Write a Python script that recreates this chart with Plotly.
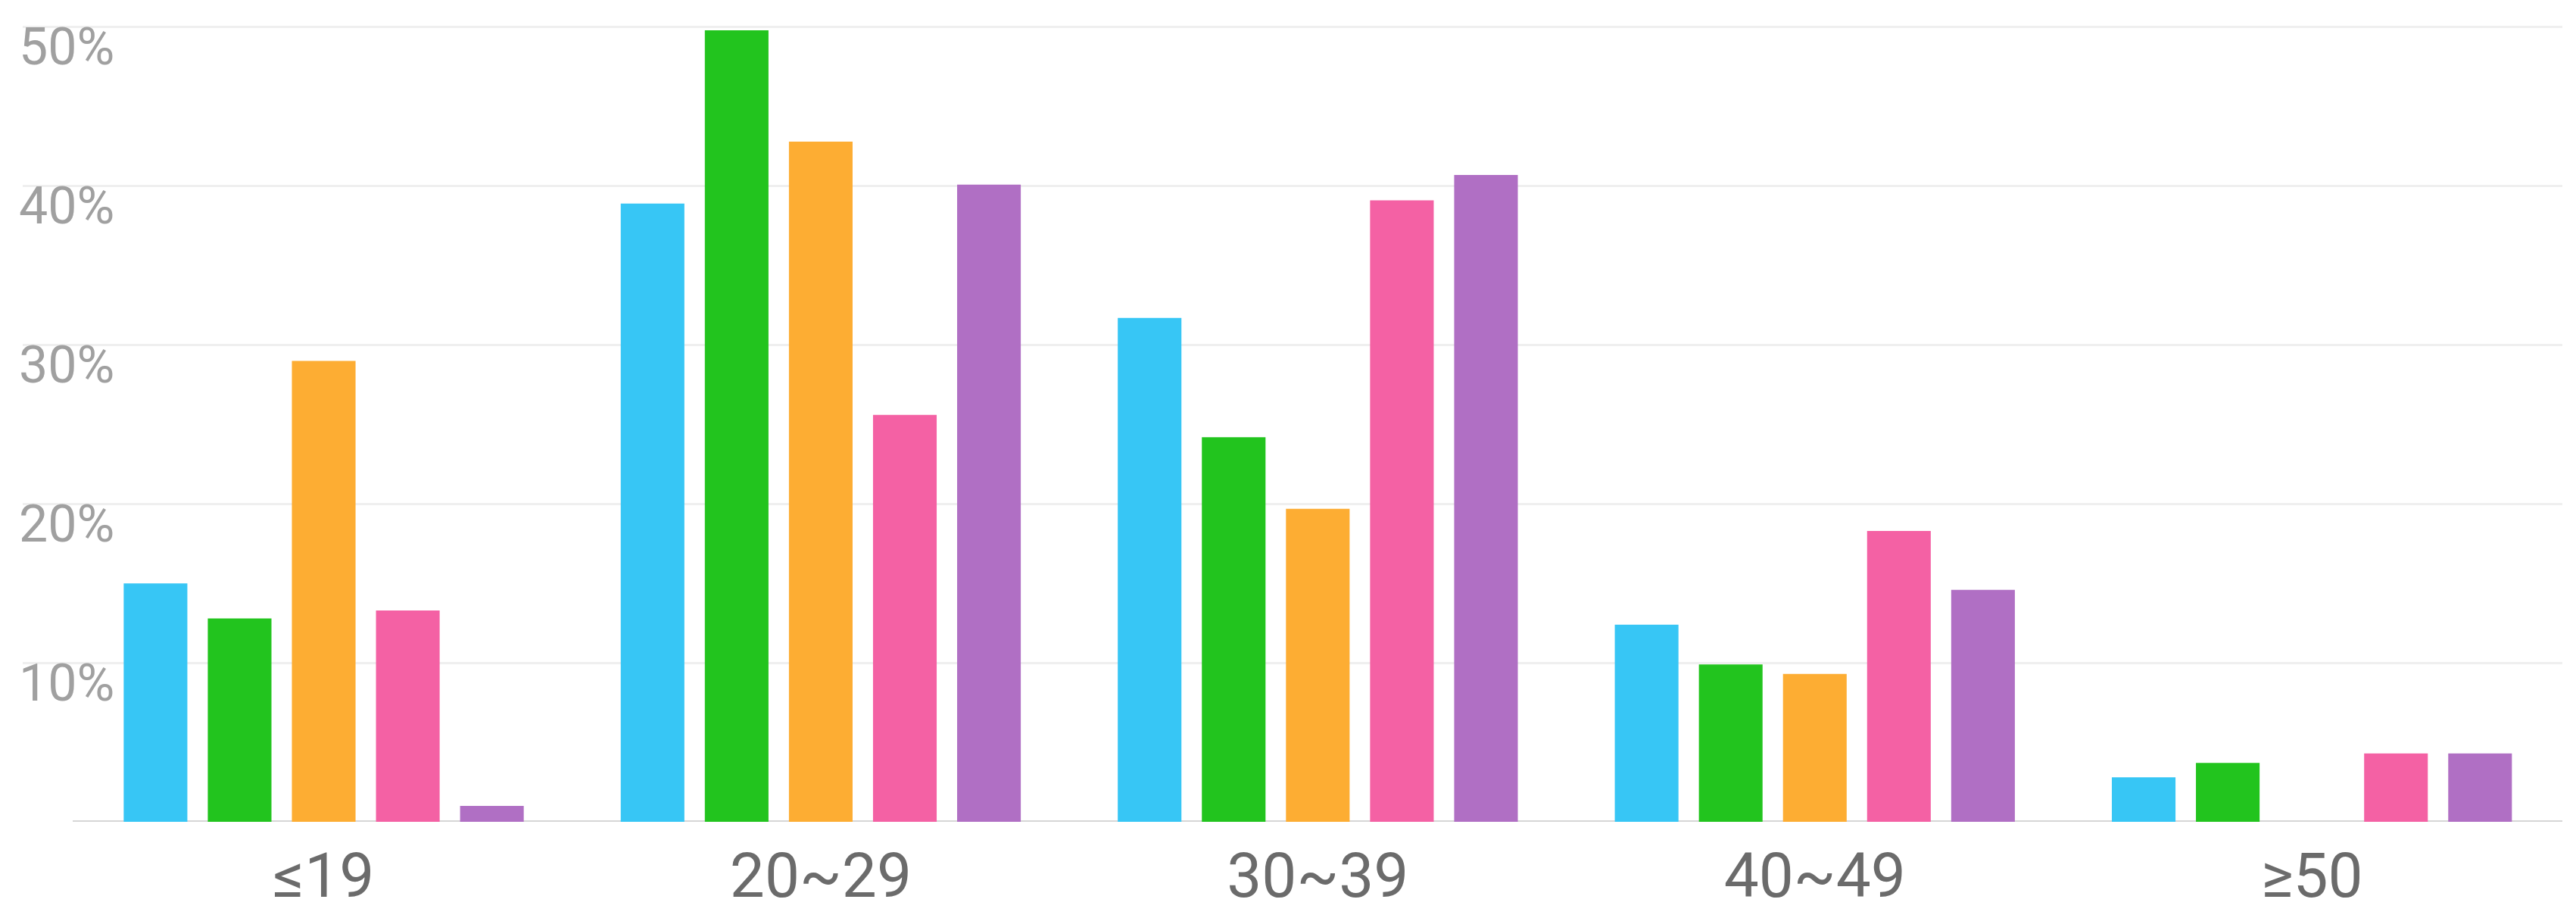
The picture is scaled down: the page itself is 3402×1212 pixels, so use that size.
import plotly.graph_objects as go

# age groups and the five series (percent)
categories = ["≤19", "20~29", "30~39", "40~49", "≥50"]
series_names = ["A", "B", "C", "D", "E"]
values_a = [15.0, 38.9, 31.7, 12.4, 2.8]
values_b = [12.8, 49.8, 24.2, 9.9, 3.7]
values_c = [29.0, 42.8, 19.7, 9.3, 0.0]
values_d = [13.3, 25.6, 39.1, 18.3, 4.3]
values_e = [1.0, 40.1, 40.7, 14.6, 4.3]
colors = ["#37C6F5", "#22C41E", "#FDAD33", "#F461A4", "#B06FC4"]
y_ticks = [10, 20, 30, 40, 50]
y_tick_text = ["10%", "20%", "30%", "40%", "50%"]

FONT = "Roboto, Noto Sans, sans-serif"

fig = go.Figure()
for name, vals, col in zip(series_names,
                           [values_a, values_b, values_c, values_d, values_e],
                           colors):
    fig.add_trace(go.Bar(x=categories, y=vals, name=name,
                         marker_color=col, marker_line_width=0))

# baseline, drawn only under the categories (gridlines run further left)
fig.add_shape(type="line", xref="x", yref="y", x0=-0.505, x1=4.504, y0=0, y1=0,
              line=dict(color="#d6d6d6", width=4), layer="below")

fig.update_layout(
    width=3402, height=1212,
    margin=dict(l=22, r=26, t=0, b=135),
    paper_bgcolor="white", plot_bgcolor="white",
    barmode="group", bargap=0.154, bargroupgap=0.243,
    showlegend=False,
    font=dict(family=FONT),
)
fig.update_xaxes(
    range=[-0.6056, 4.504], showgrid=False, zeroline=False, showline=False,
    ticks="", tickfont=dict(size=82, color="#6b6b6b"), ticklabelstandoff=16,
)
fig.update_yaxes(
    range=[0, 51.33], tickvals=y_ticks, ticktext=y_tick_text,
    showgrid=True, gridcolor="#efefef", gridwidth=3,
    zeroline=False, showline=False, ticks="",
    ticklabelposition="inside bottom", layer="below traces",
    ticklabelstandoff=-8, ticklabelshift=-22,
    tickfont=dict(size=68, color="#a0a0a0"),
)

fig.write_html("out.html")
